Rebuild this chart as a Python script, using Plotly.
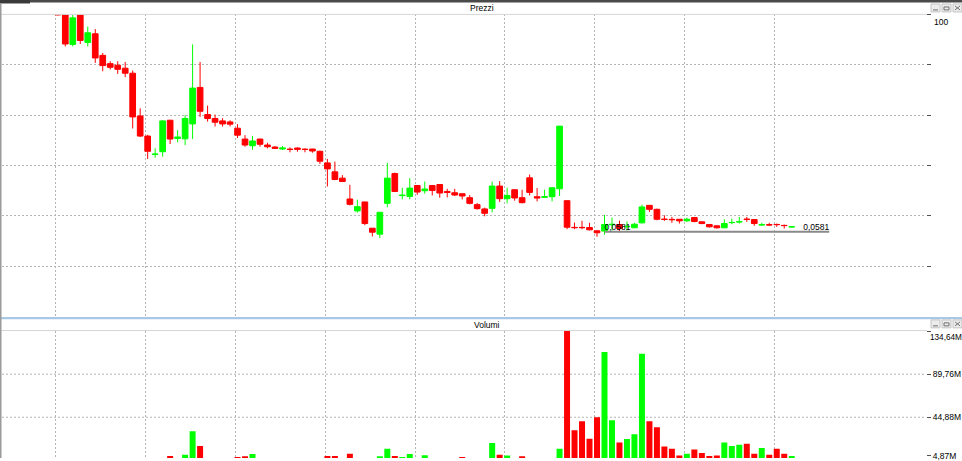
import plotly.graph_objects as go

# ---------------- data ----------------
idx = list(range(99))

opens = [139.2, 106.0, 35.97, 106.0, 38.5, 51.8, 24.7, 18.6, 17.6, 15.9,
         13.4, 3.09, 1.55, 0.825, 0.906, 2.67, 1.43, 1.41, 2.35, 8.22,
         3.24, 2.83, 2.61, 2.52, 2.03, 1.40, 1.11, 1.40, 1.14, 1.064,
         0.994, 0.988, 1.028, 0.988, 0.994, 0.919, 0.617, 0.454, 0.366, 0.1789,
         0.1189, 0.1616, 0.0657, 0.0536, 0.1541, 0.428, 0.2010, 0.1955, 0.284, 0.2374,
         0.284, 0.294, 0.2318, 0.2218, 0.2144, 0.1871, 0.1474, 0.1273, 0.1299, 0.279,
         0.1808, 0.246, 0.1871, 0.370, 0.1935, 0.1895, 0.1935, 0.254, 0.1689, 0.0676,
         0.0676, 0.0673, 0.0601, 0.0595, 0.0740, 0.0745, 0.0690, 0.0666, 0.0790, 0.1439,
         0.1256, 0.0898, 0.0890, 0.0893, 0.0846, 0.0946, 0.0818, 0.0745, 0.0713, 0.0666,
         0.0795, 0.0815, 0.0897, 0.0884, 0.0736, 0.0740, 0.0747, 0.0723, 0.0687]

highs = [149.0, 117.4, 100.0, 113.4, 66.4, 60.8, 26.8, 20.2, 20.2, 19.7,
         14.7, 4.02, 1.62, 1.018, 2.67, 2.70, 1.90, 3.17, 35.97, 19.7,
         4.41, 3.24, 2.86, 2.67, 2.33, 1.60, 1.56, 1.41, 1.23, 1.10,
         1.10, 1.053, 1.053, 1.018, 1.00, 0.938, 0.707, 0.645, 0.406, 0.291,
         0.1747, 0.163, 0.0660, 0.1140, 0.617, 0.443, 0.263, 0.366, 0.286, 0.326,
         0.286, 0.296, 0.254, 0.254, 0.2150, 0.2051, 0.1562, 0.1330, 0.326, 0.331,
         0.263, 0.248, 0.246, 0.414, 0.260, 0.246, 0.265, 2.20, 0.170, 0.0798,
         0.0846, 0.0790, 0.0605, 0.1035, 0.0946, 0.0850, 0.0826, 0.0790, 0.1474, 0.145,
         0.1286, 0.1023, 0.0969, 0.0900, 0.0946, 0.0969, 0.0822, 0.0748, 0.0721, 0.0893,
         0.0915, 0.0969, 0.0969, 0.0888, 0.0790, 0.0790, 0.0771, 0.0745, 0.0703]

lows = [97.3, 33.6, 33.6, 36.5, 33.6, 19.1, 14.3, 15.2, 13.1, 11.7,
        2.01, 1.50, 0.707, 0.739, 0.764, 1.18, 1.25, 1.14, 1.40, 2.99,
        2.55, 2.15, 2.15, 2.15, 1.45, 1.075, 0.970, 1.075, 1.018, 0.994,
        0.961, 0.888, 0.906, 0.888, 0.876, 0.596, 0.275, 0.342, 0.322, 0.1439,
        0.1122, 0.0728, 0.0495, 0.0467, 0.1344, 0.2271, 0.1765, 0.1765, 0.2072, 0.2144,
        0.2023, 0.1871, 0.1889, 0.1982, 0.1765, 0.1489, 0.1243, 0.0989, 0.1134, 0.1616,
        0.1541, 0.1689, 0.1541, 0.2023, 0.1649, 0.1852, 0.1649, 0.1982, 0.0635, 0.0635,
        0.0635, 0.0608, 0.0490, 0.0525, 0.0608, 0.0567, 0.0608, 0.0660, 0.0771, 0.1149,
        0.0863, 0.0846, 0.0790, 0.0771, 0.0818, 0.0806, 0.0753, 0.0673, 0.0650, 0.0662,
        0.0753, 0.0771, 0.0818, 0.0713, 0.0713, 0.0713, 0.0689, 0.0650, 0.0673]

closes = [99.0, 36.5, 89.4, 41.2, 53.6, 22.6, 17.4, 16.4, 15.3, 13.4,
          2.99, 1.55, 0.919, 0.835, 2.61, 1.40, 1.50, 2.83, 8.03, 3.63,
          2.83, 2.49, 2.35, 2.33, 1.60, 1.14, 1.31, 1.17, 1.075, 1.018,
          1.028, 0.980, 0.984, 0.980, 0.928, 0.654, 0.503, 0.349, 0.326, 0.1489,
          0.1376, 0.0771, 0.0573, 0.1134, 0.366, 0.2318, 0.2035, 0.260, 0.2271, 0.252,
          0.240, 0.2196, 0.2241, 0.2051, 0.1982, 0.1541, 0.1286, 0.1095, 0.279, 0.1808,
          0.2023, 0.1852, 0.1578, 0.2241, 0.1852, 0.1935, 0.263, 2.18, 0.0680, 0.0670,
          0.0670, 0.0622, 0.0562, 0.0745, 0.0750, 0.0650, 0.0700, 0.0753, 0.1362, 0.1256,
          0.0893, 0.0888, 0.0880, 0.0846, 0.0893, 0.0826, 0.0771, 0.0689, 0.0666, 0.0771,
          0.0800, 0.0820, 0.0889, 0.0771, 0.0740, 0.0736, 0.0743, 0.0719, 0.0691]

volumes_m = [1.5, 2.0, 1.8, 1.5, 1.2, 1.6, 1.0, 0.8, 0.9, 1.0,
             2.2, 1.8, 1.5, 0.8, 2.0, 4.5, 1.8, 5.9, 30.4, 14.9,
             2.0, 1.2, 0.9, 1.0, 3.5, 4.2, 6.6, 1.5, 1.0, 0.8,
             0.7, 0.6, 0.7, 0.6, 0.8, 2.0, 4.5, 4.5, 1.5, 6.9,
             2.1, 2.2, 1.9, 4.2, 12.1, 4.5, 3.5, 6.6, 2.0, 5.2,
             1.8, 1.6, 1.2, 1.0, 3.5, 1.5, 1.4, 1.8, 18.0, 5.9,
             4.9, 2.0, 4.2, 2.2, 1.5, 1.2, 2.3, 12.1, 140.0, 31.4,
             40.7, 22.4, 44.9, 112.8, 41.8, 18.6, 22.1, 27.3, 111.1, 40.7,
             34.5, 14.5, 12.1, 4.9, 6.9, 11.4, 7.6, 4.5, 4.9, 18.6,
             14.9, 16.2, 17.3, 6.9, 12.8, 5.9, 12.1, 6.9, 4.5]

# horizontal level line drawn on the price panel
level_value = 0.0581
level_label = "0,0581"
level_start = 73
level_end = 103

# axis ticks
x_grid = [-0.3, 11.7, 23.7, 35.7, 47.7, 59.7, 71.7, 83.7, 95.7]
price_ticks = [100, 17.783, 3.1623, 0.56234, 0.1, 0.017783]
price_ticktext = ["", "", "", "", "", ""]
price_top_label = "100"
vol_ticks = [4.87, 44.88, 89.76, 134.64]
vol_ticktext = ["4,87M", "44,88M", "89,76M", ""]
vol_top_label = "134,64M"
vol_grid = [44.88, 89.76]

GREEN = "#00FF00"
RED = "#FF0000"
W, H = 962, 461
FONT = "Liberation Sans, Arial, sans-serif"


def px(x):
    return x / W


def py(y):
    return 1 - y / H


vol_colors = [GREEN if c >= o else RED for o, c in zip(opens, closes)]

fig = go.Figure()
fig.add_trace(go.Candlestick(
    x=idx, open=opens, high=highs, low=lows, close=closes,
    increasing=dict(line=dict(color=GREEN, width=1), fillcolor=GREEN),
    decreasing=dict(line=dict(color=RED, width=1), fillcolor=RED),
    whiskerwidth=0, xaxis="x", yaxis="y", showlegend=False, hoverinfo="skip",
))
fig.add_trace(go.Scatter(
    x=[level_start, level_end], y=[level_value, level_value], mode="lines",
    line=dict(color="#8a8a8a", width=2), xaxis="x", yaxis="y",
    showlegend=False, hoverinfo="skip",
))
fig.add_trace(go.Scatter(
    x=[level_start, level_end], y=[level_value, level_value], mode="text",
    text=[level_label, level_label], textposition=["top right", "top left"],
    textfont=dict(family=FONT, size=8.5, color="#000000"),
    xaxis="x", yaxis="y", showlegend=False, hoverinfo="skip",
))
fig.add_trace(go.Bar(
    x=idx, y=volumes_m, marker=dict(color=vol_colors, line=dict(width=0)),
    width=0.8, xaxis="x2", yaxis="y2", showlegend=False, hoverinfo="skip",
))

xr = [-7.451, 115.93]
xdom = [px(2), px(926)]
grid = dict(showgrid=True, gridcolor="#b4b4b4", gridwidth=1, griddash="2px,2px")

fig.update_layout(
    width=W, height=H,
    margin=dict(l=0, r=0, t=0, b=0),
    paper_bgcolor="white", plot_bgcolor="white",
    boxgap=0.24, boxgroupgap=0, bargap=0.2,
    font=dict(family=FONT, size=8.5, color="#000000"),
    xaxis=dict(domain=xdom, range=xr, tickvals=x_grid, showticklabels=False,
               ticks="", zeroline=False, showline=False,
               rangeslider=dict(visible=False), anchor="y", **grid),
    xaxis2=dict(domain=xdom, range=xr, tickvals=x_grid, showticklabels=False,
                ticks="", zeroline=False, showline=False, anchor="y2",
                matches="x", **grid),
    yaxis=dict(domain=[py(319), py(14.5)], type="log", range=[-2.50425, 2.00296],
               side="right", anchor="x", tickvals=price_ticks, ticktext=price_ticktext,
               ticks="outside", ticklen=4, tickcolor="#505050", tickwidth=1,
               zeroline=False, showline=False, **grid),
    yaxis2=dict(domain=[0, py(332.7)], range=[2.43, 135.26], side="right",
                anchor="x2", tickvals=vol_ticks, ticktext=vol_ticktext,
                ticks="outside", ticklen=4, tickcolor="#505050", tickwidth=1,
                ticklabeloverflow="allow",
                tickfont=dict(family=FONT, size=8.5, color="#000000"),
                showgrid=False, zeroline=False, showline=False),
)

shapes = []
# window chrome
shapes.append(dict(type="rect", xref="paper", yref="paper", x0=0, x1=1,
                   y0=py(2.5), y1=1, fillcolor="#4a4a4a", line=dict(width=0)))
shapes.append(dict(type="rect", xref="paper", yref="paper", x0=0, x1=px(30),
                   y0=py(3.5), y1=1, fillcolor="#3a3a3a", line=dict(width=0)))
shapes.append(dict(type="line", xref="paper", yref="paper", x0=0, x1=px(927),
                   y0=py(14.5), y1=py(14.5), line=dict(color="#d6d6d6", width=1)))
shapes.append(dict(type="rect", xref="paper", yref="paper", x0=0, x1=1,
                   y0=py(321.3), y1=py(319.2), fillcolor="#a8c8e6", line=dict(width=0)))
shapes.append(dict(type="line", xref="paper", yref="paper", x0=0, x1=px(927),
                   y0=py(332.7), y1=py(332.7), line=dict(color="#d6d6d6", width=1)))
shapes.append(dict(type="rect", xref="paper", yref="paper", x0=0, x1=px(1.5),
                   y0=0, y1=py(3), fillcolor="#9a9a9a", line=dict(width=0)))
for gv in vol_grid:
    shapes.append(dict(type="line", xref="x2 domain", yref="y2", x0=0, x1=1,
                       y0=gv, y1=gv, layer="below",
                       line=dict(color="#b4b4b4", width=1, dash="2px,2px")))
for top in (4, 322):
    for bx in (931, 942, 953):
        shapes.append(dict(type="rect", xref="paper", yref="paper",
                           x0=px(bx), x1=px(bx + 9), y0=py(top + 8), y1=py(top),
                           fillcolor="#ececec", line=dict(color="#c4c4c4", width=1)))
    shapes.append(dict(type="line", xref="paper", yref="paper",
                       x0=px(933), x1=px(938), y0=py(top + 6), y1=py(top + 6),
                       line=dict(color="#707070", width=1)))
    shapes.append(dict(type="rect", xref="paper", yref="paper",
                       x0=px(944), x1=px(949), y0=py(top + 6), y1=py(top + 3),
                       line=dict(color="#707070", width=1)))
    shapes.append(dict(type="line", xref="paper", yref="paper",
                       x0=px(955), x1=px(960), y0=py(top + 6), y1=py(top + 2),
                       line=dict(color="#707070", width=1)))
    shapes.append(dict(type="line", xref="paper", yref="paper",
                       x0=px(955), x1=px(960), y0=py(top + 2), y1=py(top + 6),
                       line=dict(color="#707070", width=1)))
fig.update_layout(shapes=shapes)

annotations = [
    dict(text="Prezzi", xref="paper", yref="paper", x=px(482), y=py(8.5),
         xanchor="center", yanchor="middle", showarrow=False,
         font=dict(family=FONT, size=8.5, color="#000000")),
    dict(text="Volumi", xref="paper", yref="paper", x=px(487), y=py(327),
         xanchor="center", yanchor="middle", showarrow=False,
         font=dict(family=FONT, size=8.5, color="#000000")),
    dict(text=price_top_label, xref="paper", yref="y", x=px(932), y=2.0,
         xanchor="left", yanchor="top", showarrow=False,
         font=dict(family=FONT, size=8.5, color="#000000")),
    dict(text=vol_top_label, xref="paper", yref="y2", x=px(928), y=vol_ticks[-1],
         xanchor="left", yanchor="top", showarrow=False,
         font=dict(family=FONT, size=8.2, color="#000000")),
]
fig.update_layout(annotations=annotations)

fig.write_html(
    "out.html",
    config={"displayModeBar": False},
    post_script="document.body.style.margin='0';document.body.style.overflow='hidden';",
)
